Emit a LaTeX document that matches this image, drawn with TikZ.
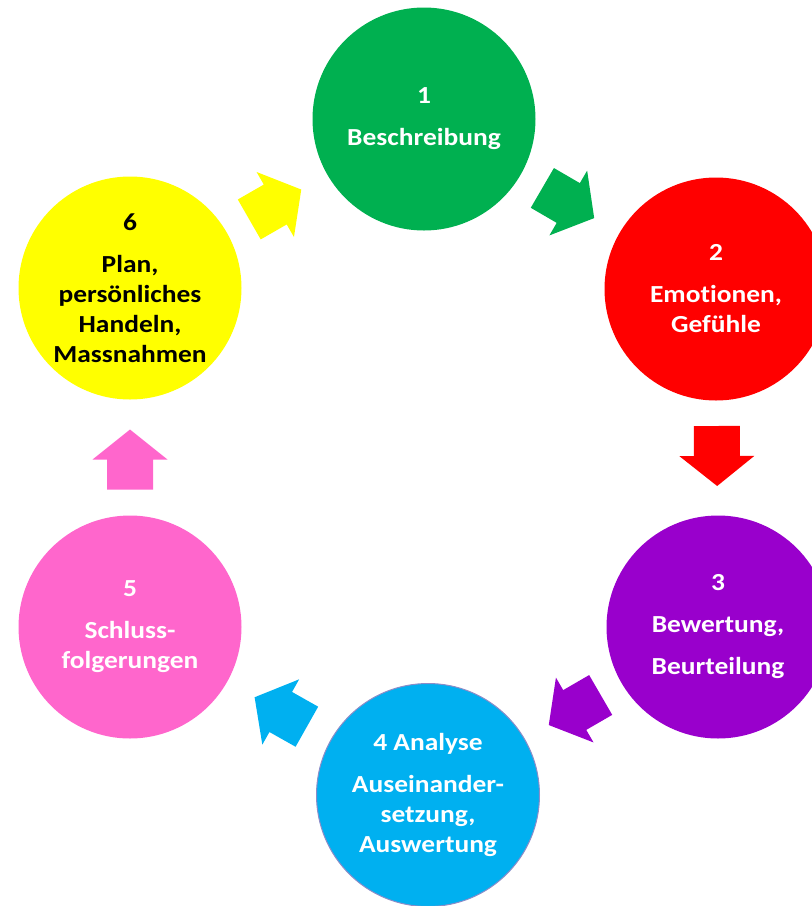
\documentclass[tikz,border=0pt]{standalone}
\usepackage{fontspec}
\setmainfont[FakeStretch=1.12, Ligatures=NoCommon]{Carlito}
\usepackage{tikz}
\usetikzlibrary{calc}

\definecolor{stepgreen}{HTML}{00B050}
\definecolor{stepred}{HTML}{FF0000}
\definecolor{steppurple}{HTML}{9900CC}
\definecolor{stepblue}{HTML}{00B0F0}
\definecolor{steppink}{HTML}{FF66CC}
\definecolor{stepyellow}{HTML}{FFFF00}
\definecolor{rimblue}{HTML}{8C8CC8}

\tikzset{
  phase/.style={circle, minimum size=223pt, inner sep=0pt, align=center,
    text=white, font=\bfseries\fontsize{24.5}{30}\selectfont}
}

\begin{document}
\begin{tikzpicture}[x=1pt, y=-1pt]
\useasboundingbox (0,0) rectangle (812,906);
% the six phases
\node[phase, fill=stepgreen] (p1) at (424,119) {1\\[12pt]Beschreibung};
\node[phase, fill=stepred] (p2) at (716,289) {2\\[12pt]Emotionen,\\Gefühle};
\node[phase, fill=steppurple] (p3) at (718,627) {3\\[12pt]Bewertung,\\[12pt]Beurteilung};
\node[phase, fill=stepblue, draw=rimblue, line width=1pt] (p4) at (428,795) {4 Analyse\\[12pt]Auseinander-\\setzung,\\Auswertung};
\node[phase, fill=steppink] (p5) at (130,627) {5\\[12pt]Schluss-\\folgerungen};
\node[phase, fill=stepyellow, text=black] (p6) at (130,288) {6\\[12pt]Plan,\\persönliches\\Handeln,\\Massnahmen};
% block arrows round the cycle
\foreach \a/\b/\c in {p1/p2/stepgreen, p2/p3/stepred, p3/p4/steppurple,
                      p4/p5/stepblue, p5/p6/steppink, p6/p1/stepyellow} {
  \coordinate (m) at ($(\a)!0.5!(\b)$);
  \coordinate (t) at ($(m)!32pt!(\a)$);
  \coordinate (h) at ($(m)!28pt!(\b)$);
  \coordinate (n) at ($(m)!2pt!(\a)$);
  \fill[\c] ($(t)!23pt!90:(h)$) -- ($(n)!23pt!90:(h)$) -- ($(n)!37.5pt!90:(h)$)
    -- (h) -- ($(n)!37.5pt!-90:(h)$) -- ($(n)!23pt!-90:(h)$)
    -- ($(t)!23pt!-90:(h)$) -- cycle;
}
\end{tikzpicture}
\end{document}
